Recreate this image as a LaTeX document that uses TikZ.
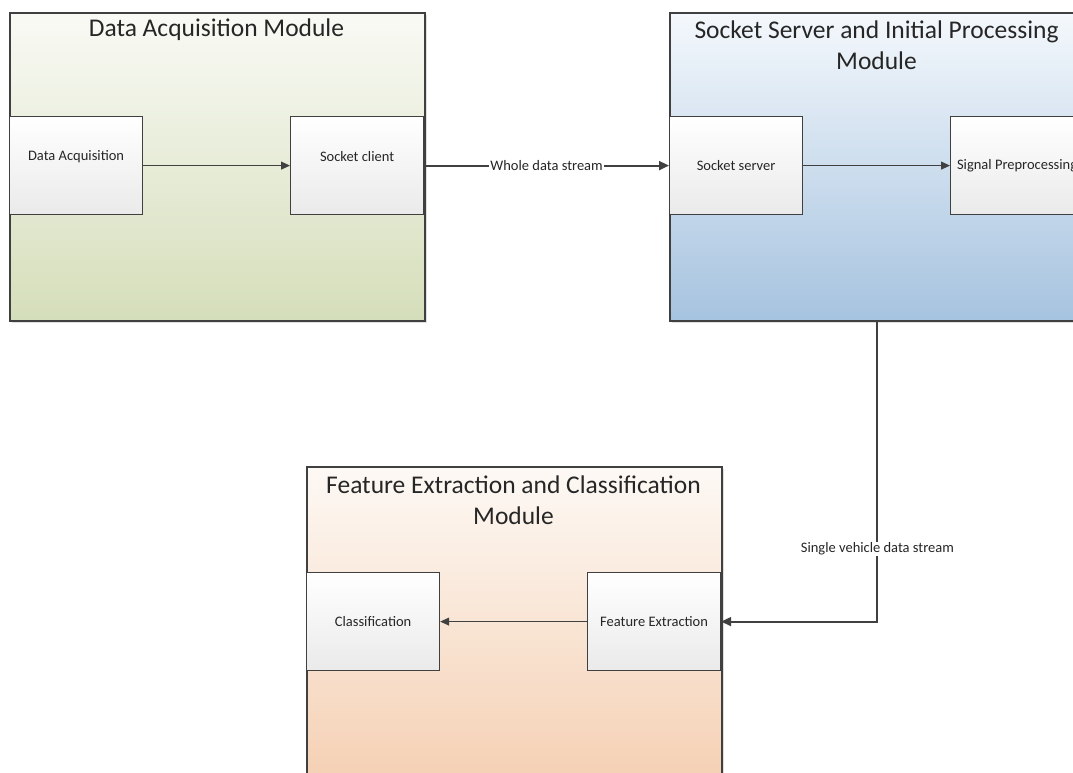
\documentclass[tikz,border=0pt]{standalone}
\usepackage{fontspec}
\setmainfont{Carlito}
\usetikzlibrary{arrows.meta,shadows}

\definecolor{edge}{RGB}{64,64,64}
\definecolor{greenTop}{RGB}{249,250,245}
\definecolor{greenBot}{RGB}{213,222,186}
\definecolor{blueTop}{RGB}{244,248,252}
\definecolor{blueBot}{RGB}{166,195,223}
\definecolor{orangeTop}{RGB}{253,249,245}
\definecolor{orangeBot}{RGB}{245,209,181}
\definecolor{boxBot}{RGB}{234,234,234}

\begin{document}
\begin{tikzpicture}[x=1pt,y=-1pt,
  module/.style={rectangle, draw=edge, line width=1.8pt, inner sep=0pt,
    minimum width=415pt, minimum height=308pt, anchor=north west,
    drop shadow={shadow xshift=2pt, shadow yshift=-2pt, opacity=0.25}},
  title/.style={font=\fontsize{25.5}{31}\selectfont, text=black!85, align=center},
  stepbox/.style={rectangle, draw=edge, line width=1.2pt, inner sep=0pt,
    minimum width=133pt, minimum height=98pt, anchor=north west,
    top color=white, bottom color=boxBot,
    font=\fontsize{14.5}{17}\selectfont, text=black!85},
  lbl/.style={font=\fontsize{14.5}{17}\selectfont, text=black!85, fill=white, inner sep=1pt},
  thin/.style={draw=edge, line width=1pt, -{Triangle[length=9pt,width=8pt]}},
  thick/.style={draw=edge, line width=2pt, -{Triangle[length=10pt,width=9pt]}}
]
\useasboundingbox (0,0) rectangle (1073,773);
\clip (0,0) rectangle (1073,773);
\fill[white] (0,0) rectangle (1073,773);

% Data acquisition module
\node[module, top color=greenTop, bottom color=greenBot] (m1) at (9,12) {};
\node[title] (t1) at (216.5,30) {Data Acquisition Module};
\node[stepbox, label={[font=\fontsize{14.5}{17}\selectfont, text=black!85, yshift=9pt]center:Data Acquisition}] (da) at (9,116) {};
\node[stepbox, label={[font=\fontsize{14.5}{17}\selectfont, text=black!85, yshift=9pt]center:Socket client}] (sc) at (290,116) {};

% Socket server and initial processing module
\node[module, top color=blueTop, bottom color=blueBot] (m2) at (669,12) {};
\node[title] (t2) at (876.5,45.5) {Socket Server and Initial Processing\\Module};
\node[stepbox] (ss) at (669,116) {Socket server};
\node[stepbox] (sp) at (950,116) {Signal Preprocessing};

% Feature extraction and classification module
\node[module, top color=orangeTop, bottom color=orangeBot] (m3) at (306,466) {};
\node[title] (t3) at (513.5,500) {Feature Extraction and Classification\\Module};
\node[stepbox] (cl) at (306,572) {Classification};
\node[stepbox] (fe) at (587,572) {Feature Extraction};

% Connectors inside the modules
\draw[thin] (da) -- (sc);
\draw[thin] (ss) -- (sp);
\draw[thin] (fe) -- (cl);

% Connectors between the modules
\draw[thick] (sc) -- node[lbl] {Whole data stream} (ss);
\draw[thick] (m2.south) |- node[lbl, pos=0.379] {Single vehicle data stream} (fe.east);
\end{tikzpicture}
\end{document}
